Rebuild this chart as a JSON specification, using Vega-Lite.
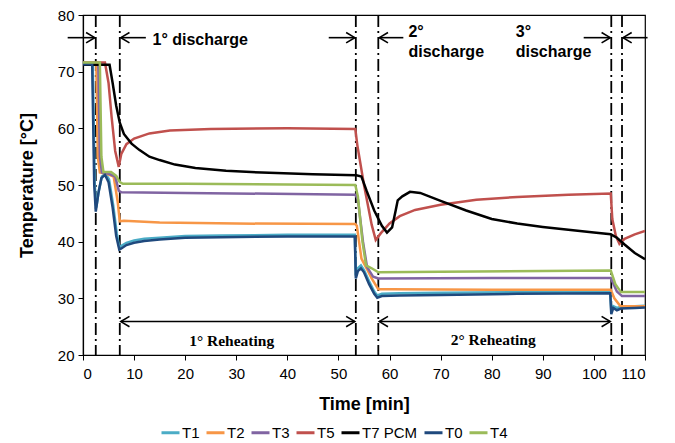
{
  "$schema": "https://vega.github.io/schema/vega-lite/v6.json",
  "width": 562,
  "height": 340,
  "autosize": {"type": "none"},
  "padding": {"left": 83, "top": 15, "right": 30, "bottom": 88},
  "background": "white",
  "config": {
    "view": {"stroke": "black", "strokeWidth": 1.2},
    "axis": {
      "grid": false,
      "domainColor": "black",
      "domainWidth": 1.2,
      "tickColor": "black",
      "tickSize": 5,
      "labelFont": "Liberation Sans",
      "labelFontSize": 15,
      "labelColor": "black",
      "titleFont": "Liberation Sans",
      "titleFontSize": 18,
      "titleFontWeight": "bold",
      "titleColor": "black"
    },
    "legend": {"padding": 0}
  },
  "datasets": {
    "series": [
      {"s": "T1", "t": 0, "v": 71.5}, {"s": "T1", "t": 1.9, "v": 71.5}, {"s": "T1", "t": 2.3, "v": 50}, {"s": "T1", "t": 2.6, "v": 46}, {"s": "T1", "t": 3.1, "v": 49}, {"s": "T1", "t": 3.7, "v": 51.5}, {"s": "T1", "t": 4.4, "v": 52}, {"s": "T1", "t": 5.1, "v": 51}, {"s": "T1", "t": 5.9, "v": 46.5}, {"s": "T1", "t": 6.6, "v": 41.5}, {"s": "T1", "t": 7.1, "v": 39}, {"s": "T1", "t": 7.6, "v": 39.3}, {"s": "T1", "t": 8.5, "v": 39.8}, {"s": "T1", "t": 10, "v": 40.2}, {"s": "T1", "t": 12, "v": 40.5}, {"s": "T1", "t": 15, "v": 40.7}, {"s": "T1", "t": 20, "v": 41}, {"s": "T1", "t": 27, "v": 41.1}, {"s": "T1", "t": 40, "v": 41.2}, {"s": "T1", "t": 53.2, "v": 41.2}, {"s": "T1", "t": 53.4, "v": 34}, {"s": "T1", "t": 53.8, "v": 35.3}, {"s": "T1", "t": 54.4, "v": 35.8}, {"s": "T1", "t": 55, "v": 35}, {"s": "T1", "t": 56, "v": 33}, {"s": "T1", "t": 57, "v": 31.2}, {"s": "T1", "t": 57.6, "v": 30.5}, {"s": "T1", "t": 58.5, "v": 30.8}, {"s": "T1", "t": 62, "v": 30.9}, {"s": "T1", "t": 70, "v": 31}, {"s": "T1", "t": 85, "v": 31.1}, {"s": "T1", "t": 103.2, "v": 31.2}, {"s": "T1", "t": 103.4, "v": 27.8}, {"s": "T1", "t": 103.8, "v": 28.6}, {"s": "T1", "t": 104.5, "v": 28.3}, {"s": "T1", "t": 105.3, "v": 28.5}, {"s": "T1", "t": 108, "v": 28.6}, {"s": "T1", "t": 110, "v": 28.7},

      {"s": "T2", "t": 0, "v": 71.5}, {"s": "T2", "t": 2.6, "v": 71.5}, {"s": "T2", "t": 2.9, "v": 55}, {"s": "T2", "t": 3.3, "v": 52.2}, {"s": "T2", "t": 4.5, "v": 52}, {"s": "T2", "t": 6, "v": 51.5}, {"s": "T2", "t": 6.8, "v": 47}, {"s": "T2", "t": 7.2, "v": 43.6}, {"s": "T2", "t": 8, "v": 43.7}, {"s": "T2", "t": 15, "v": 43.4}, {"s": "T2", "t": 30, "v": 43.2}, {"s": "T2", "t": 53.3, "v": 43.1}, {"s": "T2", "t": 53.6, "v": 42.8}, {"s": "T2", "t": 54.5, "v": 37}, {"s": "T2", "t": 55.5, "v": 35.3}, {"s": "T2", "t": 56.5, "v": 33.5}, {"s": "T2", "t": 57.8, "v": 31.6}, {"s": "T2", "t": 60, "v": 31.6}, {"s": "T2", "t": 80, "v": 31.5}, {"s": "T2", "t": 103.3, "v": 31.5}, {"s": "T2", "t": 104, "v": 30}, {"s": "T2", "t": 105.2, "v": 28.6}, {"s": "T2", "t": 110, "v": 28.6},

      {"s": "T3", "t": 0, "v": 71.5}, {"s": "T3", "t": 3, "v": 71.5}, {"s": "T3", "t": 3.3, "v": 55}, {"s": "T3", "t": 3.7, "v": 52.2}, {"s": "T3", "t": 5, "v": 52}, {"s": "T3", "t": 6.3, "v": 51.5}, {"s": "T3", "t": 7, "v": 49}, {"s": "T3", "t": 7.5, "v": 48.7}, {"s": "T3", "t": 20, "v": 48.6}, {"s": "T3", "t": 53.3, "v": 48.3}, {"s": "T3", "t": 53.8, "v": 47.5}, {"s": "T3", "t": 54.8, "v": 40}, {"s": "T3", "t": 55.6, "v": 35.5}, {"s": "T3", "t": 56.8, "v": 33.8}, {"s": "T3", "t": 57.8, "v": 33.5}, {"s": "T3", "t": 80, "v": 33.6}, {"s": "T3", "t": 103.3, "v": 33.6}, {"s": "T3", "t": 104.5, "v": 31.2}, {"s": "T3", "t": 105.5, "v": 30.4}, {"s": "T3", "t": 110, "v": 30.4},

      {"s": "T5", "t": 0, "v": 71.6}, {"s": "T5", "t": 4.3, "v": 71.6}, {"s": "T5", "t": 5, "v": 68}, {"s": "T5", "t": 5.6, "v": 62}, {"s": "T5", "t": 6.3, "v": 56}, {"s": "T5", "t": 7, "v": 53.2}, {"s": "T5", "t": 7.5, "v": 55.5}, {"s": "T5", "t": 8.5, "v": 57.2}, {"s": "T5", "t": 10, "v": 58.2}, {"s": "T5", "t": 13, "v": 59.1}, {"s": "T5", "t": 17, "v": 59.6}, {"s": "T5", "t": 25, "v": 59.9}, {"s": "T5", "t": 40, "v": 60}, {"s": "T5", "t": 53.3, "v": 59.9}, {"s": "T5", "t": 53.7, "v": 57}, {"s": "T5", "t": 55, "v": 50}, {"s": "T5", "t": 56.5, "v": 43}, {"s": "T5", "t": 57.3, "v": 40.3}, {"s": "T5", "t": 58.3, "v": 41.5}, {"s": "T5", "t": 60, "v": 43.2}, {"s": "T5", "t": 62, "v": 44.5}, {"s": "T5", "t": 65, "v": 45.6}, {"s": "T5", "t": 70, "v": 46.5}, {"s": "T5", "t": 77, "v": 47.4}, {"s": "T5", "t": 85, "v": 47.9}, {"s": "T5", "t": 95, "v": 48.3}, {"s": "T5", "t": 103.3, "v": 48.5}, {"s": "T5", "t": 103.6, "v": 44}, {"s": "T5", "t": 104.3, "v": 41}, {"s": "T5", "t": 105, "v": 39.6}, {"s": "T5", "t": 106, "v": 40.5}, {"s": "T5", "t": 108, "v": 41.3}, {"s": "T5", "t": 110, "v": 41.9},

      {"s": "T7 PCM", "t": 0, "v": 71.2}, {"s": "T7 PCM", "t": 5.2, "v": 71.2}, {"s": "T7 PCM", "t": 5.8, "v": 68}, {"s": "T7 PCM", "t": 6.5, "v": 64}, {"s": "T7 PCM", "t": 7.2, "v": 61}, {"s": "T7 PCM", "t": 8, "v": 59}, {"s": "T7 PCM", "t": 9.5, "v": 57.3}, {"s": "T7 PCM", "t": 11, "v": 56.2}, {"s": "T7 PCM", "t": 13, "v": 55}, {"s": "T7 PCM", "t": 15, "v": 54.4}, {"s": "T7 PCM", "t": 18, "v": 53.6}, {"s": "T7 PCM", "t": 22, "v": 53}, {"s": "T7 PCM", "t": 28, "v": 52.5}, {"s": "T7 PCM", "t": 35, "v": 52.2}, {"s": "T7 PCM", "t": 45, "v": 51.9}, {"s": "T7 PCM", "t": 53.5, "v": 51.7}, {"s": "T7 PCM", "t": 54.5, "v": 51.5}, {"s": "T7 PCM", "t": 55.5, "v": 49}, {"s": "T7 PCM", "t": 57, "v": 45.5}, {"s": "T7 PCM", "t": 58.5, "v": 42.8}, {"s": "T7 PCM", "t": 59.5, "v": 41.6}, {"s": "T7 PCM", "t": 60.5, "v": 42.5}, {"s": "T7 PCM", "t": 61.2, "v": 45.5}, {"s": "T7 PCM", "t": 61.6, "v": 47.3}, {"s": "T7 PCM", "t": 62.5, "v": 48}, {"s": "T7 PCM", "t": 64, "v": 48.8}, {"s": "T7 PCM", "t": 66, "v": 48.6}, {"s": "T7 PCM", "t": 70, "v": 47.2}, {"s": "T7 PCM", "t": 75, "v": 45.5}, {"s": "T7 PCM", "t": 80, "v": 44}, {"s": "T7 PCM", "t": 85, "v": 43.2}, {"s": "T7 PCM", "t": 90, "v": 42.6}, {"s": "T7 PCM", "t": 95, "v": 42.1}, {"s": "T7 PCM", "t": 100, "v": 41.6}, {"s": "T7 PCM", "t": 103.3, "v": 41.3}, {"s": "T7 PCM", "t": 104.5, "v": 40.7}, {"s": "T7 PCM", "t": 106, "v": 39.5}, {"s": "T7 PCM", "t": 108, "v": 38}, {"s": "T7 PCM", "t": 110, "v": 36.9},

      {"s": "T0", "t": 0, "v": 71.3}, {"s": "T0", "t": 1.8, "v": 71.3}, {"s": "T0", "t": 2.2, "v": 50}, {"s": "T0", "t": 2.5, "v": 45.3}, {"s": "T0", "t": 3, "v": 48.5}, {"s": "T0", "t": 3.6, "v": 51.2}, {"s": "T0", "t": 4.3, "v": 51.8}, {"s": "T0", "t": 5, "v": 50.5}, {"s": "T0", "t": 5.8, "v": 46}, {"s": "T0", "t": 6.5, "v": 41}, {"s": "T0", "t": 7.1, "v": 38.6}, {"s": "T0", "t": 7.5, "v": 38.8}, {"s": "T0", "t": 8.5, "v": 39.4}, {"s": "T0", "t": 10, "v": 39.8}, {"s": "T0", "t": 12, "v": 40.1}, {"s": "T0", "t": 15, "v": 40.4}, {"s": "T0", "t": 20, "v": 40.7}, {"s": "T0", "t": 27, "v": 40.8}, {"s": "T0", "t": 40, "v": 40.9}, {"s": "T0", "t": 53.2, "v": 40.9}, {"s": "T0", "t": 53.4, "v": 33.5}, {"s": "T0", "t": 53.8, "v": 34.8}, {"s": "T0", "t": 54.4, "v": 35.3}, {"s": "T0", "t": 55, "v": 34.6}, {"s": "T0", "t": 56, "v": 32.5}, {"s": "T0", "t": 57, "v": 30.8}, {"s": "T0", "t": 57.6, "v": 30.1}, {"s": "T0", "t": 58.5, "v": 30.4}, {"s": "T0", "t": 62, "v": 30.5}, {"s": "T0", "t": 70, "v": 30.6}, {"s": "T0", "t": 85, "v": 30.8}, {"s": "T0", "t": 103.2, "v": 30.9}, {"s": "T0", "t": 103.4, "v": 27.2}, {"s": "T0", "t": 103.8, "v": 28.3}, {"s": "T0", "t": 104.5, "v": 27.9}, {"s": "T0", "t": 105.3, "v": 28.2}, {"s": "T0", "t": 108, "v": 28.3}, {"s": "T0", "t": 110, "v": 28.4},

      {"s": "T4", "t": 0, "v": 71.6}, {"s": "T4", "t": 3.3, "v": 71.6}, {"s": "T4", "t": 3.6, "v": 55}, {"s": "T4", "t": 4, "v": 52.3}, {"s": "T4", "t": 5.5, "v": 52.3}, {"s": "T4", "t": 6.5, "v": 51.6}, {"s": "T4", "t": 7.2, "v": 50.5}, {"s": "T4", "t": 7.8, "v": 50.2}, {"s": "T4", "t": 20, "v": 50.2}, {"s": "T4", "t": 53.3, "v": 50}, {"s": "T4", "t": 53.8, "v": 48}, {"s": "T4", "t": 54.7, "v": 40}, {"s": "T4", "t": 55.4, "v": 35.8}, {"s": "T4", "t": 56.5, "v": 35.3}, {"s": "T4", "t": 57.8, "v": 34.6}, {"s": "T4", "t": 70, "v": 34.7}, {"s": "T4", "t": 103.3, "v": 34.9}, {"s": "T4", "t": 104.2, "v": 32.5}, {"s": "T4", "t": 105.3, "v": 31.1}, {"s": "T4", "t": 110, "v": 31.1}
    ],
    "vlines": [{"t": 2.5}, {"t": 7.2}, {"t": 53.4}, {"t": 57.8}, {"t": 103.4}, {"t": 105.5}],
    "shafts": [
      {"a": -3.0, "b": 2.3, "y": 76}, {"a": 7.4, "b": 12.3, "y": 76},
      {"a": 48.1, "b": 53.2, "y": 76}, {"a": 58.0, "b": 62.7, "y": 76},
      {"a": 98.0, "b": 103.2, "y": 76}, {"a": 105.7, "b": 110.5, "y": 76},
      {"a": 7.4, "b": 53.2, "y": 25.9}, {"a": 58.0, "b": 103.2, "y": 25.9}
    ],
    "heads": [
      {"t": 2.3, "y": 76, "dir": "right"}, {"t": 7.4, "y": 76, "dir": "left"},
      {"t": 53.2, "y": 76, "dir": "right"}, {"t": 58.0, "y": 76, "dir": "left"},
      {"t": 103.2, "y": 76, "dir": "right"}, {"t": 105.7, "y": 76, "dir": "left"},
      {"t": 7.4, "y": 25.9, "dir": "left"}, {"t": 53.2, "y": 25.9, "dir": "right"},
      {"t": 58.0, "y": 25.9, "dir": "left"}, {"t": 103.2, "y": 25.9, "dir": "right"}
    ],
    "labels": [
      {"t": 13.6, "y": 75.6, "txt": "1° discharge"},
      {"t": 63.7, "y": 77.05, "txt": "2°"},
      {"t": 63.7, "y": 73.5, "txt": "discharge"},
      {"t": 84.7, "y": 77.05, "txt": "3°"},
      {"t": 84.7, "y": 73.5, "txt": "discharge"}
    ],
    "phases": [
      {"t": 29.1, "y": 22.4, "txt": "1° Reheating"},
      {"t": 80.3, "y": 22.7, "txt": "2° Reheating"}
    ]
  },
  "layer": [
    {
      "data": {"name": "vlines"},
      "mark": {"type": "rule", "color": "black", "strokeWidth": 1.8, "strokeDash": [12, 4, 2, 4]},
      "encoding": {
        "x": {"field": "t", "type": "quantitative", "scale": {"domain": [0, 110], "nice": false}}
      }
    },
    {
      "data": {"name": "series"},
      "mark": {"type": "line", "strokeWidth": 2.5, "clip": true},
      "encoding": {
        "x": {
          "field": "t", "type": "quantitative",
          "scale": {"domain": [0, 110], "nice": false},
          "axis": {"title": "Time [min]", "values": [0, 10, 20, 30, 40, 50, 60, 70, 80, 90, 100, 110], "titlePadding": 14, "labelPadding": 6}
        },
        "y": {
          "field": "v", "type": "quantitative",
          "scale": {"domain": [20, 80], "nice": false},
          "axis": {"title": "Temperature [°C]", "values": [20, 30, 40, 50, 60, 70, 80], "titlePadding": 21, "labelPadding": 4}
        },
        "color": {
          "field": "s", "type": "nominal",
          "scale": {
            "domain": ["T1", "T2", "T3", "T5", "T7 PCM", "T0", "T4"],
            "range": ["#4BACC6", "#F79646", "#8064A2", "#C0504D", "#000000", "#1F497D", "#9BBB59"]
          },
          "legend": {
            "title": null,
            "orient": "none",
            "direction": "horizontal",
            "legendX": 77,
            "legendY": 407,
            "symbolType": "stroke",
            "symbolSize": 324,
            "symbolStrokeWidth": 3,
            "labelFont": "Liberation Sans",
            "labelFontSize": 15,
            "labelColor": "black",
            "labelOffset": 1,
            "columnPadding": 0
          }
        },
        "order": {"field": "t", "type": "quantitative"}
      }
    },
    {
      "data": {"name": "shafts"},
      "mark": {"type": "rule", "color": "black", "strokeWidth": 1.6},
      "encoding": {
        "x": {"field": "a", "type": "quantitative"},
        "x2": {"field": "b"},
        "y": {"field": "y", "type": "quantitative"}
      }
    },
    {
      "data": {"name": "heads"},
      "mark": {"type": "point", "filled": false, "stroke": "black", "strokeWidth": 1.6, "size": 300, "opacity": 1},
      "encoding": {
        "x": {"field": "t", "type": "quantitative"},
        "y": {"field": "y", "type": "quantitative"},
        "shape": {
          "field": "dir", "type": "nominal", "legend": null,
          "scale": {"domain": ["right", "left"], "range": ["M-1,-0.6L0,0L-1,0.6", "M1,-0.6L0,0L1,0.6"]}
        }
      }
    },
    {
      "data": {"name": "labels"},
      "mark": {"type": "text", "align": "left", "baseline": "middle", "font": "Liberation Sans", "fontWeight": "bold", "fontSize": 16, "color": "black"},
      "encoding": {
        "x": {"field": "t", "type": "quantitative"},
        "y": {"field": "y", "type": "quantitative"},
        "text": {"field": "txt"}
      }
    },
    {
      "data": {"name": "phases"},
      "mark": {"type": "text", "align": "center", "baseline": "middle", "font": "Liberation Serif", "fontWeight": "bold", "fontSize": 15.5, "color": "black"},
      "encoding": {
        "x": {"field": "t", "type": "quantitative"},
        "y": {"field": "y", "type": "quantitative"},
        "text": {"field": "txt"}
      }
    }
  ]
}
